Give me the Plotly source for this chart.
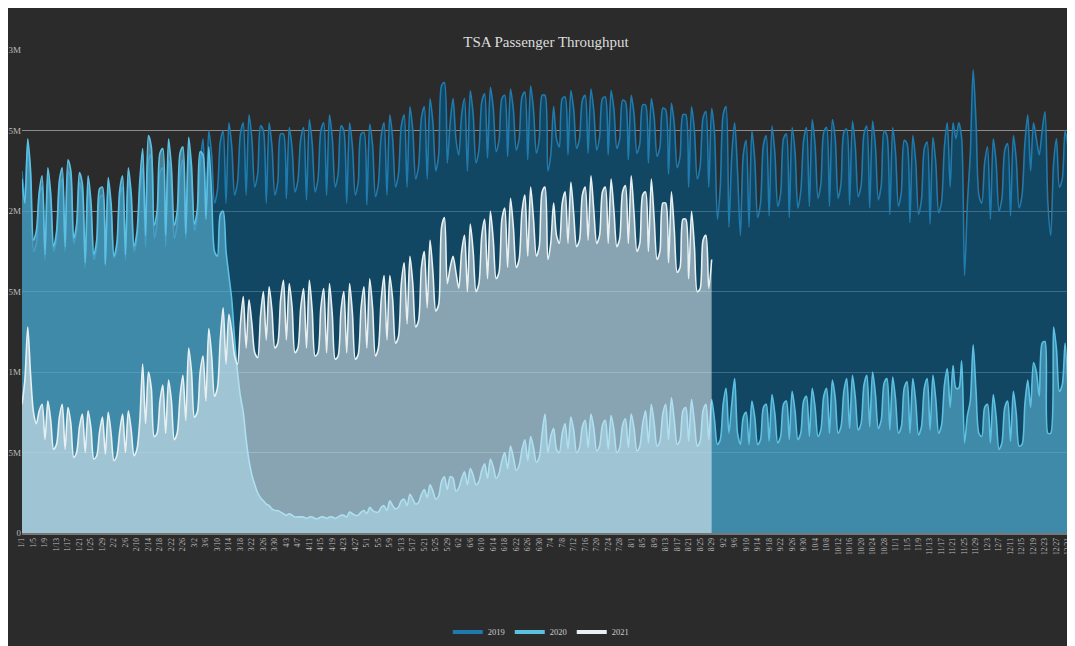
import pandas as pd
import plotly.graph_objects as go

# x categories: every day of the (non-leap) calendar year, labelled m/d
dates = [f"{d.month}/{d.day}" for d in pd.date_range("2021-01-01", "2021-12-31")]

# Daily throughput, millions of passengers
y2019 = [
    2.25, 2.10, 2.42, 2.20, 1.75, 1.80, 2.10,
    2.15, 1.70, 2.20, 2.05, 1.75, 1.83, 2.13,
    2.20, 1.75, 2.25, 2.20, 1.80, 1.88, 2.18,
    2.10, 1.65, 2.15, 2.00, 1.70, 1.78, 2.08,
    2.10, 1.66, 2.16, 2.01, 1.71, 1.77, 2.09,
    2.15, 1.70, 2.20, 2.05, 1.75, 1.83, 2.13,
    2.27, 1.78, 2.32, 2.35, 1.83, 1.92, 2.24,
    2.27, 1.78, 2.32, 2.16, 1.83, 1.92, 2.24,
    2.32, 1.83, 2.37, 2.21, 1.88, 1.97, 2.29,
    2.45, 2.00, 2.50, 2.35, 2.05, 2.13, 2.43,
    2.50, 2.05, 2.55, 2.40, 2.10, 2.18, 2.48,
    2.55, 2.10, 2.60, 2.45, 2.15, 2.23, 2.53,
    2.50, 2.05, 2.55, 2.40, 2.10, 2.18, 2.48,
    2.48, 2.08, 2.52, 2.39, 2.12, 2.19, 2.45,
    2.52, 2.07, 2.57, 2.42, 2.12, 2.20, 2.50,
    2.55, 2.10, 2.60, 2.45, 2.15, 2.23, 2.53,
    2.50, 2.05, 2.55, 2.40, 2.10, 2.18, 2.48,
    2.49, 2.04, 2.54, 2.41, 2.09, 2.17, 2.47,
    2.55, 2.10, 2.60, 2.45, 2.15, 2.23, 2.53,
    2.60, 2.15, 2.65, 2.50, 2.20, 2.28, 2.58,
    2.65, 2.20, 2.70, 2.55, 2.25, 2.35, 2.78,
    2.80, 2.30, 2.55, 2.70, 2.45, 2.35, 2.60,
    2.70, 2.25, 2.75, 2.60, 2.30, 2.38, 2.68,
    2.73, 2.33, 2.77, 2.64, 2.37, 2.44, 2.70,
    2.72, 2.34, 2.76, 2.63, 2.38, 2.45, 2.71,
    2.74, 2.32, 2.78, 2.63, 2.36, 2.45, 2.72,
    2.72, 2.25, 2.35, 2.65, 2.45, 2.40, 2.70,
    2.71, 2.35, 2.75, 2.63, 2.39, 2.45, 2.69,
    2.72, 2.36, 2.76, 2.62, 2.38, 2.46, 2.70,
    2.71, 2.35, 2.75, 2.63, 2.39, 2.45, 2.69,
    2.68, 2.32, 2.72, 2.60, 2.36, 2.42, 2.66,
    2.66, 2.30, 2.70, 2.58, 2.34, 2.40, 2.64,
    2.63, 2.23, 2.67, 2.54, 2.27, 2.34, 2.60,
    2.60, 2.15, 2.65, 2.50, 2.20, 2.28, 2.58,
    2.62, 2.15, 2.64, 2.48, 1.95, 2.15, 2.60,
    2.65, 1.90, 2.35, 2.55, 2.25, 1.85, 2.35,
    2.44, 1.90, 2.50, 2.32, 1.96, 2.05, 2.41,
    2.47, 1.97, 2.53, 2.36, 2.03, 2.11, 2.45,
    2.48, 1.96, 2.52, 2.37, 2.02, 2.12, 2.44,
    2.52, 2.03, 2.57, 2.41, 2.08, 2.17, 2.49,
    2.52, 2.03, 2.57, 2.45, 2.08, 2.17, 2.49,
    2.51, 2.04, 2.56, 2.40, 2.09, 2.16, 2.48,
    2.53, 2.02, 2.56, 2.40, 2.07, 2.16, 2.50,
    2.47, 1.98, 2.52, 2.36, 2.03, 2.12, 2.44,
    2.42, 1.93, 2.47, 2.31, 1.98, 2.07, 2.39,
    2.43, 1.92, 2.46, 2.30, 1.99, 2.06, 2.40,
    2.55, 2.15, 2.55, 2.45, 2.55, 2.45, 1.60,
    2.05, 2.35, 2.88, 2.55, 2.10, 2.05, 2.30,
    2.40, 1.95, 2.45, 2.30, 2.00, 2.08, 2.38,
    2.42, 1.97, 2.47, 2.32, 2.02, 2.10, 2.42,
    2.60, 2.25, 2.55, 2.45, 2.35, 2.50, 2.62,
    2.05, 1.85, 2.30, 2.45, 2.15, 2.20, 2.50,
    2.40,
]

y2020 = [
    2.20, 2.05, 2.45, 2.25, 1.82, 1.88, 2.12,
    2.22, 1.73, 2.27, 2.11, 1.78, 1.87, 2.19,
    2.27, 1.78, 2.32, 2.25, 1.83, 1.92, 2.24,
    2.17, 1.68, 2.22, 2.06, 1.73, 1.82, 2.14,
    2.15, 1.67, 2.21, 2.05, 1.72, 1.80, 2.13,
    2.22, 1.73, 2.27, 2.11, 1.78, 1.87, 2.19,
    2.39, 1.85, 2.47, 2.40, 1.91, 2.00, 2.36,
    2.39, 1.85, 2.45, 2.27, 1.91, 2.00, 2.36,
    2.40, 1.86, 2.46, 2.28, 1.92, 2.01, 2.37,
    2.35, 1.95, 2.40, 2.10, 1.75, 1.72, 1.98,
    2.00, 1.75, 1.60, 1.45, 1.20, 1.00, 0.85,
    0.75, 0.58, 0.45, 0.36, 0.30, 0.25, 0.22,
    0.20, 0.18, 0.17, 0.15, 0.14, 0.14, 0.13,
    0.12, 0.11, 0.12, 0.11, 0.10, 0.10, 0.10,
    0.10, 0.09, 0.10, 0.10, 0.09, 0.09, 0.10,
    0.10, 0.09, 0.10, 0.10, 0.09, 0.10, 0.11,
    0.11, 0.10, 0.13, 0.12, 0.11, 0.11, 0.13,
    0.14, 0.12, 0.16, 0.14, 0.13, 0.13, 0.16,
    0.17, 0.14, 0.20, 0.17, 0.15, 0.16, 0.20,
    0.21, 0.17, 0.24, 0.21, 0.18, 0.19, 0.24,
    0.27, 0.22, 0.30, 0.26, 0.21, 0.23, 0.32,
    0.35, 0.27, 0.35, 0.34, 0.26, 0.28, 0.34,
    0.38, 0.30, 0.40, 0.36, 0.30, 0.32, 0.39,
    0.43, 0.34, 0.46, 0.41, 0.34, 0.37, 0.45,
    0.50, 0.40, 0.54, 0.47, 0.39, 0.42, 0.52,
    0.58, 0.45, 0.60, 0.53, 0.44, 0.47, 0.62,
    0.74, 0.50, 0.60, 0.65, 0.52, 0.50, 0.62,
    0.68, 0.52, 0.72, 0.64, 0.50, 0.53, 0.66,
    0.70, 0.53, 0.74, 0.65, 0.51, 0.54, 0.67,
    0.70, 0.52, 0.73, 0.64, 0.50, 0.53, 0.67,
    0.71, 0.53, 0.74, 0.65, 0.51, 0.54, 0.68,
    0.76, 0.56, 0.80, 0.68, 0.54, 0.57, 0.74,
    0.80, 0.58, 0.84, 0.70, 0.55, 0.58, 0.76,
    0.78, 0.57, 0.83, 0.69, 0.54, 0.57, 0.76,
    0.80, 0.58, 0.83, 0.70, 0.55, 0.58, 0.80,
    0.90, 0.62, 0.80, 0.96, 0.62, 0.55, 0.72,
    0.75, 0.55, 0.82, 0.72, 0.55, 0.58, 0.78,
    0.80, 0.57, 0.86, 0.74, 0.56, 0.60, 0.80,
    0.82, 0.58, 0.88, 0.76, 0.58, 0.62, 0.82,
    0.85, 0.60, 0.90, 0.78, 0.60, 0.64, 0.85,
    0.90, 0.62, 0.95, 0.84, 0.62, 0.66, 0.88,
    0.96, 0.65, 0.98, 0.84, 0.64, 0.68, 0.92,
    0.98, 0.66, 1.00, 0.86, 0.65, 0.70, 0.93,
    0.96, 0.64, 0.97, 0.83, 0.62, 0.66, 0.90,
    0.94, 0.62, 0.96, 0.82, 0.61, 0.66, 0.90,
    0.96, 0.64, 0.98, 0.83, 0.62, 0.67, 0.92,
    1.02, 0.78, 1.04, 0.90, 0.90, 1.07, 0.56,
    0.73, 0.82, 1.17, 0.88, 0.62, 0.60, 0.78,
    0.80, 0.56, 0.86, 0.72, 0.52, 0.56, 0.78,
    0.82, 0.57, 0.88, 0.74, 0.54, 0.55, 0.80,
    0.95, 0.78, 1.06, 1.00, 0.85, 1.18, 1.19,
    0.62, 0.62, 1.28, 1.14, 0.88, 0.92, 1.18,
    0.88,
]

y2021 = [
    0.80, 0.95, 1.28, 0.98, 0.75, 0.68, 0.76,
    0.80, 0.58, 0.82, 0.70, 0.52, 0.55, 0.72,
    0.80, 0.52, 0.78, 0.68, 0.47, 0.50, 0.66,
    0.74, 0.50, 0.76, 0.65, 0.46, 0.48, 0.63,
    0.72, 0.49, 0.75, 0.62, 0.45, 0.48, 0.63,
    0.74, 0.50, 0.76, 0.64, 0.48, 0.52, 0.70,
    1.05, 0.68, 1.00, 0.90, 0.60, 0.62, 0.82,
    0.92, 0.62, 0.95, 0.82, 0.58, 0.62, 0.85,
    0.98, 0.70, 1.15, 1.00, 0.72, 0.75, 1.00,
    1.10, 0.82, 1.27, 1.10, 0.85, 0.90, 1.20,
    1.40, 1.05, 1.36, 1.25, 1.10, 1.05, 1.30,
    1.47, 1.15, 1.45, 1.30, 1.12, 1.09, 1.35,
    1.50, 1.20, 1.53, 1.38, 1.15, 1.18, 1.45,
    1.57, 1.20, 1.55, 1.40, 1.12, 1.15, 1.40,
    1.52, 1.15, 1.57, 1.38, 1.10, 1.12, 1.40,
    1.52, 1.12, 1.55, 1.35, 1.08, 1.10, 1.38,
    1.50, 1.12, 1.55, 1.36, 1.08, 1.11, 1.40,
    1.53, 1.15, 1.58, 1.40, 1.10, 1.15, 1.45,
    1.60, 1.20, 1.60, 1.45, 1.18, 1.22, 1.55,
    1.68, 1.30, 1.72, 1.55, 1.28, 1.32, 1.65,
    1.75, 1.40, 1.82, 1.62, 1.38, 1.42, 1.90,
    1.96, 1.55, 1.65, 1.72, 1.62, 1.52, 1.75,
    1.85, 1.50, 1.92, 1.75, 1.50, 1.55, 1.85,
    1.95, 1.58, 2.00, 1.82, 1.58, 1.62, 1.95,
    2.02, 1.65, 2.08, 1.90, 1.65, 1.70, 2.00,
    2.10, 1.72, 2.15, 1.95, 1.72, 1.78, 2.12,
    2.15, 1.70, 1.80, 2.05, 1.85, 1.80, 2.05,
    2.12, 1.80, 2.18, 1.98, 1.78, 1.82, 2.10,
    2.15, 1.82, 2.22, 2.00, 1.80, 1.85, 2.12,
    2.15, 1.80, 2.20, 2.00, 1.78, 1.83, 2.12,
    2.16, 1.80, 2.22, 1.98, 1.75, 1.80, 2.10,
    2.12, 1.75, 2.20, 1.95, 1.70, 1.75, 2.05,
    2.05, 1.68, 2.12, 1.88, 1.62, 1.65, 1.95,
    1.95, 1.58, 2.00, 1.78, 1.50, 1.52, 1.82,
    1.85, 1.52, 1.70,
]

series_names = ["2019", "2020", "2021"]
y_tick_vals = [0, 0.5, 1, 1.5, 2, 2.5, 3]
y_tick_text = ["0", "0.5M", "1M", "1.5M", "2M", "2.5M", "3M"]

line_colors = ["#1f7aae", "#5cc0e3", "#e8f0f2"]
fill_colors = ["rgba(0,90,135,0.6)", "rgba(94,184,215,0.6)", "rgba(255,255,255,0.5)"]
series_values = [y2019, y2020, y2021]

FONT = "Liberation Serif"
BG = "#2b2b2b"

fig = go.Figure()
for name, vals, lc, fc in zip(series_names, series_values, line_colors, fill_colors):
    fig.add_trace(go.Scatter(
        x=dates[:len(vals)], y=vals, name=name, mode="lines",
        line=dict(color=lc, width=1.6, shape="spline", smoothing=0.8),
        fill="tozeroy", fillcolor=fc, showlegend=False, hoverinfo="skip",
    ))
# legend entries (line symbols only)
for name, lc in zip(series_names, line_colors):
    fig.add_trace(go.Scatter(
        x=[None], y=[None], name=name, mode="lines",
        line=dict(color=lc, width=4), showlegend=True,
    ))

# page places the figure ~8px from the window's top-left corner
W, H = 1067, 638
L, R, T, B = 14, 5, 42, 113
ph = H - T - B


def py2paper_y(py):
    return (H - B - py) / ph


fig.update_layout(
    width=W, height=H,
    margin=dict(l=L, r=R, t=T, b=B, pad=0, autoexpand=False),
    paper_bgcolor=BG, plot_bgcolor=BG,
    font=dict(family=FONT, color="#cccccc", size=9),
    title=dict(text="TSA Passenger Throughput", x=0.5, xref="paper",
               y=1 - 34 / H, yanchor="middle", xanchor="center",
               font=dict(family=FONT, size=15, color="#dddddd")),
    xaxis=dict(type="category", categoryorder="array", categoryarray=dates,
               range=[0, 364.7], tickmode="linear", tick0=0, dtick=4,
               tickangle=-90, tickfont=dict(size=7.5, color="#bbbbbb"),
               showgrid=False, showline=True, linecolor="#777777", linewidth=2,
               ticks="", zeroline=False, automargin=False),
    yaxis=dict(range=[0, 3.002], tickvals=y_tick_vals, ticktext=y_tick_text,
               tickfont=dict(size=9, color="#bbbbbb"), gridcolor="#8c8c8c",
               gridwidth=1, zeroline=False, showline=False, ticks="",
               automargin=False),
    legend=dict(orientation="h", x=0.495, xanchor="center",
                y=py2paper_y(624), yanchor="middle",
                font=dict(size=8.5, color="#cccccc"), itemwidth=30,
                bgcolor="rgba(0,0,0,0)"),
    hovermode=False,
)

fig.write_html("out.html")
